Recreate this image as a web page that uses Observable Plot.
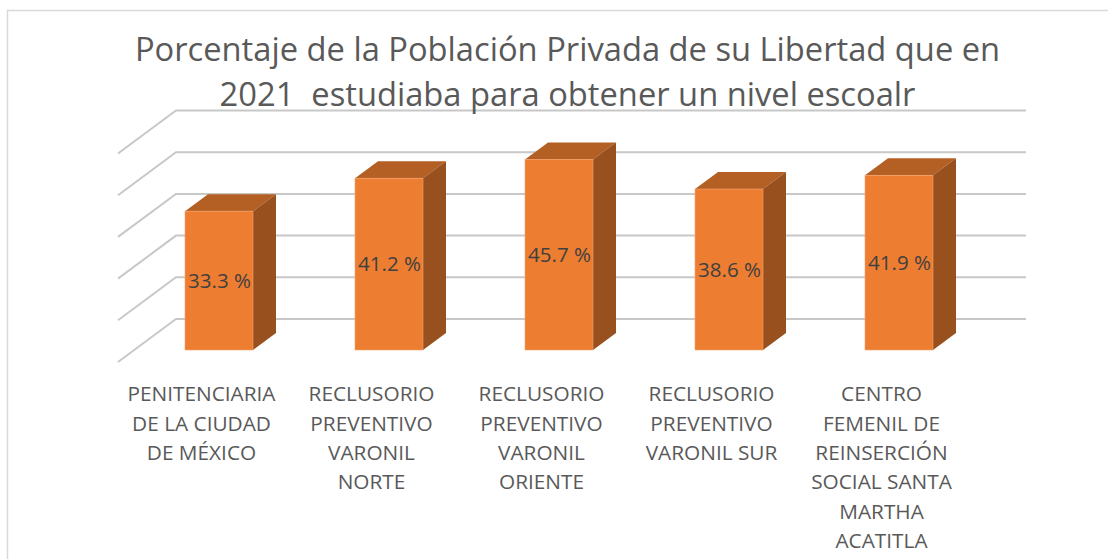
<!DOCTYPE html>
<html><head><meta charset="utf-8">
<script src="https://cdn.jsdelivr.net/npm/d3@7"></script>
<script src="https://cdn.jsdelivr.net/npm/@observablehq/plot@0.6"></script>
<style>body{margin:0;background:#fff} svg{display:block}</style>
</head><body><div id="chart"></div>
<script>
const categories = [
  "PENITENCIARIA DE LA CIUDAD DE MÉXICO",
  "RECLUSORIO PREVENTIVO VARONIL NORTE",
  "RECLUSORIO PREVENTIVO VARONIL ORIENTE",
  "RECLUSORIO PREVENTIVO VARONIL SUR",
  "CENTRO FEMENIL DE REINSERCIÓN SOCIAL SANTA MARTHA ACATITLA"
];
const categoryLines = [
  "PENITENCIARIA\nDE LA CIUDAD\nDE MÉXICO",
  "RECLUSORIO\nPREVENTIVO\nVARONIL\nNORTE",
  "RECLUSORIO\nPREVENTIVO\nVARONIL\nORIENTE",
  "RECLUSORIO\nPREVENTIVO\nVARONIL SUR",
  "CENTRO\nFEMENIL DE\nREINSERCIÓN\nSOCIAL SANTA\nMARTHA\nACATITLA"
];
const values = [33.3, 41.2, 45.7, 38.6, 41.9];
const yTicks = [0, 10, 20, 30, 40, 50];
const titleLines = [
  "Porcentaje de la Población Privada de su Libertad que en",
  "2021  estudiaba para obtener un nivel escoalr"
];

const data = categories.map((c, i) => ({cat: c, label: categoryLines[i], value: values[i]}));

const FRONT = "#ED7D31", TOP = "#B45F24", SIDE = "#97501E";
const BAR_DEPTH = [23, -17], WALL = [42, -31], FLOOR = [-16, 12];

function border(index, scales, values, dims) {
  return d3.create("svg:rect")
    .attr("x", 7.5).attr("y", 10.5)
    .attr("width", dims.width + 10).attr("height", dims.height + 10)
    .attr("fill", "none").attr("stroke", "#d9d9d9").attr("stroke-width", 1.5).node();
}

function grid(index, {y}, values, dims) {
  const r0 = dims.marginLeft, r1 = dims.width - dims.marginRight;
  const g = d3.create("svg:g").attr("fill", "none").attr("stroke", "#c8c8c8").attr("stroke-width", 2);
  for (const t of yTicks) {
    const yb = y(t) + WALL[1], yf = y(t) + FLOOR[1];
    g.append("path").attr("d", `M${r0 + FLOOR[0]},${yf}L${r0 + WALL[0]},${yb}L${r1 + WALL[0]},${yb}`);
  }
  return g.node();
}

function bars3d(index, {x, y}) {
  const g = d3.create("svg:g");
  const bw = x.bandwidth();
  const [dx, dy] = BAR_DEPTH;
  for (const d of data) {
    const x0 = x(d.cat), x1 = x0 + bw, yt = y(d.value), y0 = y(0);
    g.append("path").attr("fill", TOP)
      .attr("d", `M${x0},${yt}L${x0 + dx},${yt + dy}L${x1 + dx},${yt + dy}L${x1},${yt}Z`);
    g.append("path").attr("fill", SIDE)
      .attr("d", `M${x1},${yt}L${x1 + dx},${yt + dy}L${x1 + dx},${y0 + dy}L${x1},${y0}Z`);
  }
  return g.node();
}

const chart = Plot.plot({
  width: 1108,
  height: 559,
  marginLeft: 134,
  marginRight: 124,
  marginTop: 141.5,
  marginBottom: 209,
  style: {fontFamily: "'Open Sans', sans-serif", background: "#fff"},
  x: {domain: categories, paddingInner: 0.6, paddingOuter: 0.3, axis: null},
  y: {domain: [0, 50], axis: null},
  marks: [
    border,
    grid,
    bars3d,
    Plot.barY(data, {x: "cat", y: "value", fill: FRONT, stroke: "#f3a46f", strokeWidth: 0.6}),
    Plot.text(data, {x: "cat", y: d => d.value / 2, text: d => d.value.toFixed(1) + " %",
      fontSize: 20.5, fill: "#404040"}),
    Plot.text(data, {x: "cat", y: () => 0, text: "label", dx: -18, dy: 30, lineAnchor: "top",
      lineHeight: 1.41, fontSize: 20.8, fill: "#595959"}),
    Plot.text([titleLines.join("\n")], {frameAnchor: "top", dx: 8, dy: -113, lineAnchor: "top",
      lineHeight: 1.38, fontSize: 32.7, fill: "#595959"})
  ]
});
document.getElementById("chart").appendChild(chart);
</script>
</body></html>
